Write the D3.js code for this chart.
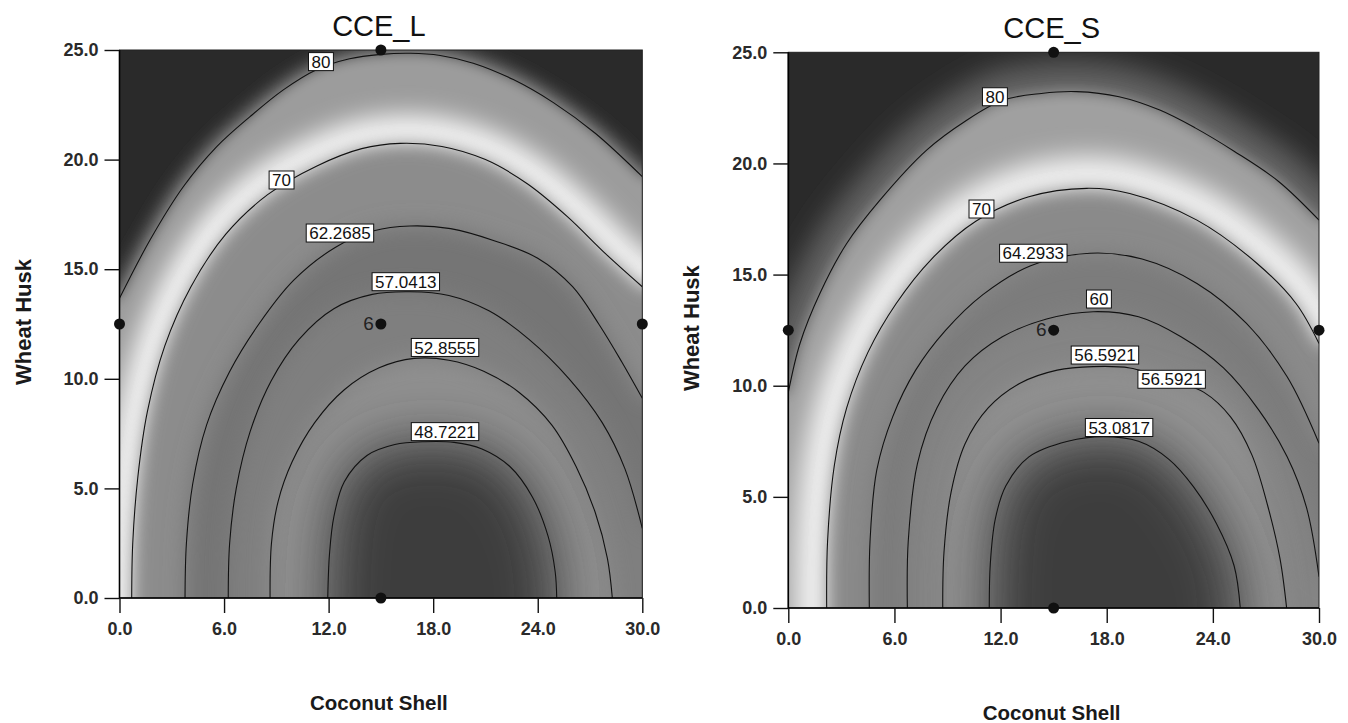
<!DOCTYPE html>
<html>
<head>
<meta charset="utf-8">
<script src="https://cdn.jsdelivr.net/npm/d3@7"></script>
<style>
  body { margin: 0; background: #fff; }
  svg { display: block; }
</style>
</head>
<body>
<script>
// ---- data ----
const xTicks = [0, 6, 12, 18, 24, 30];
const yTicks = [0, 5, 10, 15, 20, 25];
const designX = [15, 0, 30, 15, 15];
const designY = [25, 12.5, 12.5, 0, 12.5];
const centerRuns = "6";

// CCE_L contours (Coconut Shell, Wheat Husk), one array per level
const lLevels = [48.7221, 52.8555, 57.0413, 62.2685, 70, 80];
const lLineX = [
  [11.95, 12.05, 12.3, 12.9, 14.2, 15.8, 17.5, 19.2, 20.8, 22.4, 23.7, 24.6, 25.0, 25.09],
  [8.64, 8.72, 9.1, 9.9, 11.2, 12.9, 14.9, 16.9, 18.9, 20.9, 22.9, 24.8, 26.2, 27.3, 28.0, 28.28],
  [6.24, 6.32, 6.7, 7.5, 8.7, 10.3, 12.3, 14.5, 16.67, 18.9, 21.2, 23.5, 25.8, 27.7, 29.0, 30],
  [3.76, 3.84, 4.2, 5.0, 6.3, 8.0, 10.0, 12.4, 14.6, 16.67, 19.0, 21.5, 24.0, 26.0, 27.5, 28.8, 30],
  [0.7, 0.76, 1.05, 1.6, 2.6, 4.1, 6.1, 8.5, 11.3, 13.9, 16.1, 18.5, 21.0, 23.4, 25.7, 27.9, 30],
  [0, 1.75, 3.66, 5.58, 7.49, 9.4, 11.3, 13.2, 15.0, 16.7, 18.4, 20.3, 22.6, 24.9, 27.3, 30]
];
const lLineY = [
  [0, 2.0, 3.7, 5.3, 6.5, 7.0, 7.13, 7.1, 6.8, 6.0, 4.6, 2.8, 1.2, 0],
  [0, 2.5, 4.4, 6.2, 8.0, 9.5, 10.5, 10.93, 10.85, 10.35, 9.4, 7.9, 6.0, 3.9, 1.8, 0],
  [0, 2.5, 5.0, 7.6, 9.9, 11.8, 13.2, 13.85, 13.97, 13.8, 13.1, 11.8, 10.0, 8.0, 5.9, 3.18],
  [0, 2.5, 5.2, 7.9, 10.3, 12.5, 14.5, 16.0, 16.75, 16.97, 16.85, 16.3, 15.5, 14.2, 12.5, 10.8, 9.11],
  [0, 2.5, 5.5, 8.5, 11.5, 14.2, 16.6, 18.4, 19.7, 20.5, 20.74, 20.6, 20.0, 18.9, 17.4, 15.7, 14.2],
  [13.67, 16.33, 18.76, 20.59, 21.96, 23.18, 24.1, 24.6, 24.8, 24.85, 24.75, 24.4, 23.65, 22.6, 21.2, 19.22]
];
const lLabelLevel = [5, 4, 3, 2, 1, 0];
const lLabelX = [11.56, 9.3, 12.65, 16.43, 18.68, 18.68];
const lLabelY = [24.47, 19.07, 16.65, 14.43, 11.43, 7.59];

// CCE_S contours
const sLevels = [53.0817, 56.5921, 60, 64.2933, 70, 80];
const sLineX = [
  [11.36, 11.42, 11.7, 12.3, 13.6, 15.8, 17.8, 19.8, 21.5, 22.9, 24.2, 25.2, 25.55],
  [8.73, 8.8, 9.2, 10.0, 11.3, 13.1, 15.2, 17.24, 19.3, 21.7, 23.5, 25.0, 26.2, 27.1, 27.8, 28.17],
  [6.73, 6.78, 7.3, 8.4, 10.0, 12.1, 14.6, 17.24, 19.8, 22.2, 24.6, 26.6, 28.2, 29.3, 30],
  [4.58, 4.62, 5.0, 5.9, 7.2, 8.9, 11.0, 13.7, 17.05, 20.0, 23.1, 25.9, 28.2, 30],
  [2.17, 2.22, 2.6, 3.3, 4.5, 6.1, 8.1, 10.6, 13.6, 16.87, 19.3, 23.1, 26.5, 28.7, 30],
  [0, 0.66, 1.79, 3.3, 5.18, 7.82, 10.0, 12.15, 14.3, 16.3, 18.7, 21.0, 23.0, 25.2, 27.7, 30]
];
const sLineY = [
  [0, 2.0, 4.0, 5.5, 6.8, 7.5, 7.71, 7.5, 6.7, 5.46, 3.8, 1.9, 0],
  [0, 2.5, 5.2, 7.4, 9.0, 10.11, 10.7, 10.86, 10.8, 10.25, 9.7, 8.6, 6.9, 4.6, 2.2, 0],
  [0, 3.0, 6.5, 9.0, 10.9, 12.2, 13.0, 13.33, 13.1, 12.2, 10.8, 8.9, 6.8, 4.5, 1.41],
  [0, 3.0, 6.2, 8.6, 10.7, 12.5, 14.1, 15.4, 15.96, 15.7, 14.6, 12.8, 10.4, 7.41],
  [0, 3.0, 6.4, 9.0, 11.5, 13.7, 15.7, 17.4, 18.5, 18.88, 18.65, 17.45, 15.5, 13.7, 11.9],
  [9.7, 11.9, 14.16, 16.4, 18.35, 20.6, 21.9, 22.85, 23.15, 23.23, 23.0, 22.4, 21.6, 20.55, 19.2, 17.45]
];
const sLabelLevel = [5, 4, 3, 2, 1, 1, 0];
const sLabelX = [11.68, 10.92, 13.85, 17.56, 17.9, 21.67, 18.7];
const sLabelY = [23.0, 17.95, 15.96, 13.9, 11.38, 10.29, 8.12];

// ---- drawing ----
const W = 1348, H = 723;
const FONT = "'Liberation Sans', Arial, sans-serif";
const TICKFONT = "'Liberation Sans Narrow', 'Liberation Sans', Arial, sans-serif";

const svg = d3.select("body").append("svg").attr("width", W).attr("height", H);
const defs = svg.append("defs");
[6, 7, 9, 11, 12, 13, 14, 26].forEach(s => {
  defs.append("filter")
    .attr("id", "b" + s)
    .attr("filterUnits", "userSpaceOnUse")
    .attr("x", -200).attr("y", -200).attr("width", W + 400).attr("height", H + 400)
    .append("feGaussianBlur").attr("stdDeviation", s);
});

// shading style per panel: fill inside each level (lowest first), blur of its edge
const panels = [
  {
    id: "L", title: "CCE_L",
    levels: lLevels, lineX: lLineX, lineY: lLineY,
    labLevel: lLabelLevel, labX: lLabelX, labY: lLabelY,
    box: { left: 119.5, top: 50, right: 642.3, bottom: 598 },
    bg: "#2a2a2a",
    halo: { color: "#5a5a5a", width: 22, blur: 7 },
    ridge: { color: "#f4f4f4", width: 58, blur: 12 },
    fills: ["#3d3d3d", "#8f8f8f", "#7f7f7f", "#747474", "#8c8c8c", "#9c9c9c"],
    blurs: [26, 11, 11, 11, 9, 6]
  },
  {
    id: "S", title: "CCE_S",
    levels: sLevels, lineX: sLineX, lineY: sLineY,
    labLevel: sLabelLevel, labX: sLabelX, labY: sLabelY,
    box: { left: 788.3, top: 52.3, right: 1319, bottom: 608 },
    bg: "#2a2a2a",
    halo: { color: "#626262", width: 60, blur: 14 },
    ridge: { color: "#f2f2f2", width: 64, blur: 13 },
    fills: ["#3c3c3c", "#919191", "#848484", "#7b7b7b", "#8a8a8a", "#a0a0a0"],
    blurs: [26, 11, 11, 11, 9, 7]
  }
];

panels.forEach(drawPanel);

function drawPanel(p) {
  const b = p.box;
  const x = d3.scaleLinear().domain([0, 30]).range([b.left, b.right]);
  const y = d3.scaleLinear().domain([0, 25]).range([b.bottom, b.top]);
  const line = d3.line()
    .x(d => x(d[0]))
    .y(d => y(d[1]))
    .curve(d3.curveCatmullRom.alpha(0.5));

  const pts = p.lineX.map((xs, i) => xs.map((v, j) => [v, p.lineY[i][j]]));
  const pad = 80;

  // contour continued straight out past the frame, so blurred edges stay outside
  function extended(ps) {
    const f = ps[0], l = ps[ps.length - 1];
    const pre = f[1] === 0
      ? [[x(f[0]), b.bottom + pad]]
      : [[b.left - pad, b.bottom + pad], [b.left - pad, y(f[1])]];
    const post = l[1] === 0
      ? [[x(l[0]), b.bottom + pad]]
      : [[b.right + pad, y(l[1])], [b.right + pad, b.bottom + pad]];
    return "M" + pre.map(q => q.join(",")).join("L") + "L" + line(ps).slice(1) +
      post.map(q => "L" + q.join(",")).join("");
  }

  const g = svg.append("g").attr("class", "panel-" + p.id);

  defs.append("clipPath").attr("id", "clip" + p.id)
    .append("rect")
    .attr("x", b.left).attr("y", b.top)
    .attr("width", b.right - b.left).attr("height", b.bottom - b.top);

  const plot = g.append("g").attr("clip-path", `url(#clip${p.id})`);

  // shaded surface
  const shade = plot.append("g").attr("class", "shade");
  shade.append("rect")
    .attr("x", b.left - pad).attr("y", b.top - pad)
    .attr("width", b.right - b.left + 2 * pad).attr("height", b.bottom - b.top + 2 * pad)
    .attr("fill", p.bg);
  const top = pts.length - 1;
  shade.append("path")
    .attr("d", extended(pts[top]))
    .attr("fill", "none")
    .attr("stroke", p.halo.color)
    .attr("stroke-width", p.halo.width)
    .attr("filter", `url(#b${p.halo.blur})`);
  for (let i = top; i >= 0; i--) {
    shade.append("path")
      .attr("d", extended(pts[i]) + "Z")
      .attr("fill", p.fills[i])
      .attr("filter", `url(#b${p.blurs[i]})`);
    if (i === top) {
      // bright ridge just outside the 70 contour
      shade.append("path")
        .attr("d", extended(pts[i - 1]))
        .attr("fill", "none")
        .attr("stroke", p.ridge.color)
        .attr("stroke-width", p.ridge.width)
        .attr("filter", `url(#b${p.ridge.blur})`);
    }
  }

  // contour lines
  plot.append("g").attr("class", "contours")
    .selectAll("path")
    .data(pts)
    .enter()
    .append("path")
    .attr("d", d => line(d))
    .attr("fill", "none")
    .attr("stroke", "#111")
    .attr("stroke-width", 1.1);

  // contour labels
  const labs = plot.append("g").attr("class", "labels")
    .selectAll("g")
    .data(p.labLevel.map((lv, i) => ({ text: String(p.levels[lv]), x: p.labX[i], y: p.labY[i] })))
    .enter()
    .append("g")
    .attr("transform", d => `translate(${x(d.x)},${y(d.y)})`);
  labs.append("rect").attr("fill", "#fff").attr("stroke", "#111").attr("stroke-width", 1);
  labs.append("text")
    .attr("text-anchor", "middle")
    .attr("dy", "0.36em")
    .attr("font-family", TICKFONT)
    .attr("font-size", 17)
    .attr("fill", "#111")
    .text(d => d.text);
  labs.each(function () {
    const gg = d3.select(this);
    const w = gg.select("text").node().getComputedTextLength();
    gg.select("rect")
      .attr("x", -w / 2 - 3).attr("y", -9)
      .attr("width", w + 6).attr("height", 18);
  });

  // frame
  g.append("rect")
    .attr("x", b.left).attr("y", b.top)
    .attr("width", b.right - b.left).attr("height", b.bottom - b.top)
    .attr("fill", "none").attr("stroke", "#222").attr("stroke-width", 1);
  g.append("path")
    .attr("d", `M${b.left},${b.top}V${b.bottom}H${b.right}`)
    .attr("fill", "none").attr("stroke", "#000").attr("stroke-width", 1.6);

  // axes
  const fmt = d3.format(".1f");
  const xa = g.append("g")
    .attr("transform", `translate(0,${b.bottom})`)
    .call(d3.axisBottom(x).tickValues(xTicks).tickFormat(fmt).tickSize(15).tickPadding(9));
  const ya = g.append("g")
    .attr("transform", `translate(${b.left},0)`)
    .call(d3.axisLeft(y).tickValues(yTicks).tickFormat(fmt).tickSize(15).tickPadding(6));
  [xa, ya].forEach(a => {
    a.select(".domain").remove();
    a.attr("font-family", TICKFONT).attr("font-size", 18);
    a.selectAll("line").attr("stroke", "#111").attr("stroke-width", 1.4);
    a.selectAll("text").attr("fill", "#2a2a2a").attr("font-weight", "bold");
  });

  // design points
  g.append("g").attr("class", "design")
    .selectAll("circle")
    .data(designX)
    .enter()
    .append("circle")
    .attr("cx", d => x(d))
    .attr("cy", (d, i) => y(designY[i]))
    .attr("r", 5.5)
    .attr("fill", "#111");
  g.append("text")
    .attr("x", x(designX[4]) - 7)
    .attr("y", y(designY[4]) + 6)
    .attr("text-anchor", "end")
    .attr("font-family", FONT)
    .attr("font-size", 19)
    .attr("fill", "#222")
    .text(centerRuns);

  // titles
  const cx = (b.left + b.right) / 2;
  const cy = (b.top + b.bottom) / 2;
  g.append("text")
    .attr("x", cx - 2).attr("y", b.top - 14)
    .attr("text-anchor", "middle")
    .attr("font-family", FONT).attr("font-size", 29).attr("fill", "#111")
    .text(p.title);
  g.append("text")
    .attr("x", cx - 2).attr("y", b.bottom + 112)
    .attr("text-anchor", "middle")
    .attr("font-family", FONT).attr("font-size", 20.5).attr("font-weight", "bold").attr("fill", "#1a1a1a")
    .text("Coconut Shell");
  g.append("text")
    .attr("transform", `translate(${b.left - 89},${cy - 2}) rotate(-90)`)
    .attr("text-anchor", "middle")
    .attr("font-family", FONT).attr("font-size", 22).attr("font-weight", "bold").attr("fill", "#1a1a1a")
    .text("Wheat Husk");
}
</script>
</body>
</html>
